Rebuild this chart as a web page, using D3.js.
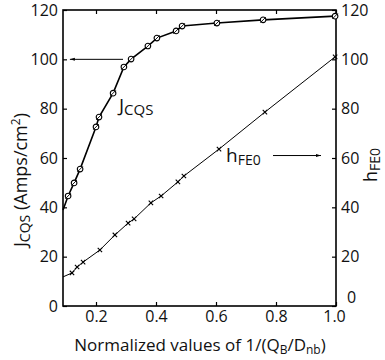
<!DOCTYPE html>
<html>
<head>
<meta charset="utf-8">
<script src="https://cdn.jsdelivr.net/npm/d3@7"></script>
<style>
body { margin: 0; background: #fff; }
text { font-family: "Open Sans", "DejaVu Sans", sans-serif; fill: #111; }
</style>
</head>
<body>
<svg width="385" height="360"></svg>
<script>
// J_CQS curve (circles), first point sits on the axis without marker
const jX = [0.09, 0.107, 0.127, 0.147, 0.20, 0.21, 0.257, 0.293, 0.317, 0.373, 0.403, 0.467, 0.487, 0.603, 0.757, 0.997];
const jY = [38.9, 44.6, 49.9, 55.5, 72.6, 76.6, 86.3, 96.9, 100.1, 105.4, 108.6, 111.5, 113.5, 114.7, 116, 117.5];

// h_FE0 line (crosses)
const hX = [0.09, 0.12, 0.137, 0.157, 0.213, 0.263, 0.307, 0.327, 0.383, 0.417, 0.473, 0.493, 0.61, 0.763, 0.997];
const hY = [11.8, 13.4, 15.8, 17.8, 22.7, 28.8, 33.6, 35.3, 41.8, 44.6, 50.3, 52.7, 63.6, 78.6, 101];

const xTicks = [0.2, 0.4, 0.6, 0.8, 1.0];
const yTicks = [0, 20, 40, 60, 80, 100, 120];

const svg = d3.select("svg");
const pl = 63, pr = 336, pt = 10, pb = 306;

const x = d3.scaleLinear().domain([0.09, 1.0]).range([pl, pr]);
const y = d3.scaleLinear().domain([0, 120]).range([pb, pt]);

// frame
svg.append("rect")
    .attr("x", pl).attr("y", pt)
    .attr("width", pr - pl).attr("height", pb - pt)
    .attr("fill", "none").attr("stroke", "#000").attr("stroke-width", 1.6);

// inward ticks
const xb = svg.append("g").attr("transform", `translate(0,${pb})`)
    .call(d3.axisBottom(x).tickValues(xTicks).tickSize(-4).tickFormat(d3.format(".1f")));
const xt = svg.append("g").attr("transform", `translate(0,${pt})`)
    .call(d3.axisTop(x).tickValues(xTicks).tickSize(-4).tickFormat(""));
const yl = svg.append("g").attr("transform", `translate(${pl},0)`)
    .call(d3.axisLeft(y).tickValues(yTicks).tickSize(-4));
const yr = svg.append("g").attr("transform", `translate(${pr},0)`)
    .call(d3.axisRight(y).tickValues(yTicks).tickSize(-4));

[xb, xt, yl, yr].forEach(g => {
    g.select(".domain").remove();
    g.selectAll(".tick line").attr("stroke", "#000").attr("stroke-width", 1.2);
    g.selectAll(".tick text").style("font-size", "16px").attr("fill", "#111");
});
xb.selectAll(".tick text").attr("dy", "0.8em");
xb.selectAll(".tick").filter(d => d === 1.0).select("text").attr("dx", "-2");
yl.selectAll(".tick text").attr("x", -5);
yr.selectAll(".tick text").attr("x", 5);
yr.selectAll(".tick").filter(d => d === 0).select("text").attr("dy", "-0.25em").attr("x", 11);

// J_CQS line
const jData = jX.map((v, i) => ({x: v, y: jY[i]}));
const hData = hX.map((v, i) => ({x: v, y: hY[i]}));
const line = d3.line().x(d => x(d.x)).y(d => y(d.y));

svg.append("path").datum(jData).attr("d", line)
    .attr("fill", "none").attr("stroke", "#000").attr("stroke-width", 1.6);
svg.append("path").datum(hData).attr("d", line)
    .attr("fill", "none").attr("stroke", "#000").attr("stroke-width", 1);

// circle markers with slash
const jm = svg.selectAll(".jm").data(jData.slice(1)).enter().append("g")
    .attr("transform", d => `translate(${x(d.x)},${y(d.y)})`);
jm.append("circle").attr("r", 2.8).attr("fill", "#fff").attr("stroke", "#000").attr("stroke-width", 1.1);
jm.append("line").attr("x1", -2.8).attr("y1", 2.8).attr("x2", 2.8).attr("y2", -2.8)
    .attr("stroke", "#000").attr("stroke-width", 0.9);

// cross markers
const hm = svg.selectAll(".hm").data(hData.slice(1)).enter().append("g")
    .attr("transform", d => `translate(${x(d.x)},${y(d.y)})`);
hm.append("path").attr("d", "M-2.2,-2.2L2.2,2.2M-2.2,2.2L2.2,-2.2")
    .attr("stroke", "#000").attr("stroke-width", 1.1);

// arrows
svg.append("defs").append("marker")
    .attr("id", "ah").attr("viewBox", "0 0 10 10").attr("refX", 10).attr("refY", 5)
    .attr("markerWidth", 7).attr("markerHeight", 5).attr("orient", "auto")
    .append("path").attr("d", "M0,2L10,5L0,8").attr("fill", "#000");

svg.append("line").attr("x1", x(0.29)).attr("y1", y(100)).attr("x2", x(0.113)).attr("y2", y(100))
    .attr("stroke", "#000").attr("stroke-width", 1).attr("marker-end", "url(#ah)");
svg.append("line").attr("x1", x(0.79)).attr("y1", y(61)).attr("x2", x(0.95)).attr("y2", y(61))
    .attr("stroke", "#000").attr("stroke-width", 1).attr("marker-end", "url(#ah)");

// in-plot labels
const jl = svg.append("text").attr("x", 119).attr("y", 112).style("font-size", "19px");
jl.append("tspan").text("J");
jl.append("tspan").attr("dy", 3).style("font-size", "15px").text("CQS");

const hl = svg.append("text").attr("x", 226).attr("y", 162).style("font-size", "19px");
hl.append("tspan").text("h");
hl.append("tspan").attr("dy", 3).style("font-size", "14px").text("FE0");

// left y label
const ylab = svg.append("text").attr("transform", "translate(27,180) rotate(-90)")
    .attr("text-anchor", "middle").style("font-size", "18px");
ylab.append("tspan").text("J");
ylab.append("tspan").attr("dy", 3).style("font-size", "14px").text("CQS");
ylab.append("tspan").attr("dy", -3).text(" (Amps/cm");
ylab.append("tspan").attr("dy", -7).style("font-size", "12px").text("2");
ylab.append("tspan").attr("dy", 7).text(")");

// right y label
const rlab = svg.append("text").attr("transform", "translate(377,165) rotate(-90)")
    .attr("text-anchor", "middle").style("font-size", "18px");
rlab.append("tspan").text("h");
rlab.append("tspan").attr("dy", 3).style("font-size", "14px").text("FE0");

// x label
const xlab = svg.append("text").attr("x", 200).attr("y", 351)
    .attr("text-anchor", "middle").style("font-size", "17px");
xlab.append("tspan").text("Normalized values of 1/(Q");
xlab.append("tspan").attr("dy", 3).style("font-size", "12px").text("B");
xlab.append("tspan").attr("dy", -3).text("/D");
xlab.append("tspan").attr("dy", 3).style("font-size", "12px").text("nb");
xlab.append("tspan").attr("dy", -3).text(")");
</script>
</body>
</html>
